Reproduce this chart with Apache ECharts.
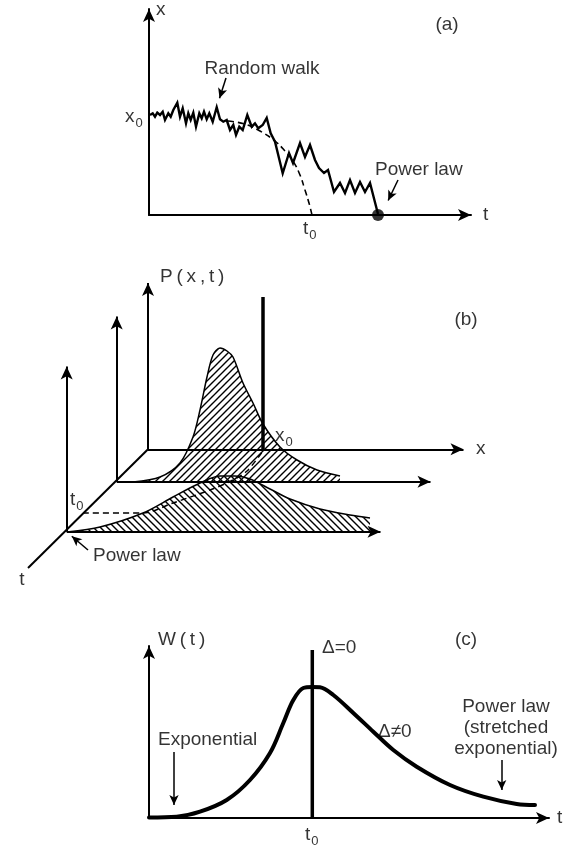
<!DOCTYPE html>
<html><head><meta charset="utf-8">
<script src="https://cdn.jsdelivr.net/npm/echarts@6/dist/echarts.min.js"></script>
<style>html,body{margin:0;padding:0;background:#fff}#c{width:572px;height:846px}</style>
</head><body><div id="c"></div>
<script>
// ---------- Panel (a): random walk (t, x) ----------
const walkA = [[1,100],[3.7,101.7],[6,98.3],[8.3,102.3],[11,100],[13.7,103.3],[16,95],[19.3,101.7],[21.7,98.3],[24.3,105],[28.3,112.3],[31,98.3],[33.7,106.7],[37,91.7],[39.3,101.7],[41.7,95],[44.3,102.3],[47,88.3],[50.3,101.7],[52.7,96.7],[55,103.3],[57.7,95.7],[60.3,101.7],[63.7,93.3],[67.7,107.7],[71,95.7],[74.3,93.3],[77.7,95],[81,85],[84.3,90],[87,80],[90.3,88.3],[93.7,85],[98.3,100],[102.7,88.3],[106,91.7],[109.3,86.7],[113.7,90],[117.7,97],[121.7,81.7],[126,73.3],[133.7,41.7],[140,62],[144,52],[151,72],[156,58],[161,70],[166,55],[170,47],[175,42],[179,45],[185,23],[191,32],[196,22],[201,35],[206,22],[211,33],[216,23],[221,32],[229,1]];
const dashA = [[79,94],[96,91],[111,84],[126,74],[136,64],[144,54],[151,40],[156,25],[160,12],[163,0]];
const dotA = [[229,0]];
const arrowsA = [[[77,137],[69,112]],[[249,35],[237,10]]];
const labelsA = [[7,205,'x','left'],[334,0,'t','left'],[298,190,'(a)','center'],[113,146,'Random walk','center'],[-24,98,'x{s|0}','left'],[154,-14,'t{s|0}','left'],[226,45,'Power law','left']];

// ---------- Panel (b): 3-D sketch ----------
const backCurveB = [[133,118],[160,123],[180,137],[193,163],[200,190],[207,223],[213,245],[220,252],[227,249],[233,243],[243,217],[253,197],[263,176],[280,153],[297,140],[317,130],[340,124]];
const frontCurveB = [[67,68],[100,73],[143,87],[173,103],[200,117],[220,124],[235,124],[250,121],[270,111],[290,101],[320,91],[350,85],[370,82]];
const dashB = [[83,87],[143,87],[173,97],[210,110],[233,120],[247,129],[263,149]];
const deltaB = [[263,151],[263,303]];
const axesB = [[[148,151],[148,323.5]],[[116.7,118.3],[116.7,290]],[[66.7,68.3],[66.7,240]],[[148,150.7],[470,150.7]],[[116.7,118.3],[437,118.3]],[[66.7,68.3],[387,68.3]]];
const diagB = [[148,150.7],[28,32]];
const arrowsB = [[[88,50],[68,67]]];
const backBase = 118.3, frontBase = 68.3;
const labelsB = [[160,323,'P\u2009(\u2009x\u2009,\u2009t\u2009)','left'],[466,280,'(b)','center'],[476,151,'x','left'],[275,164,'x{s|0}','left'],[70,100,'t{s|0}','left'],[93,44,'Power law','left'],[22,20,'t','center']];

// ---------- Panel (c): W(t) ----------
const curveC = [[0,0.5],[27.7,1.3],[51,6.3],[77.7,18],[101,38],[121,65],[134.3,95],[144.3,118],[154.3,130],[163.3,131],[171,130.7],[184.3,123],[204.3,105],[224.3,86.3],[244.3,68],[267.7,51.3],[301,33],[334.3,21.3],[367.7,14],[386,13]];
const deltaC = [[163.3,0],[163.3,168]];
const arrowsC = [[[25,66],[25,8]],[[352.7,58],[352.7,23]]];
const labelsC = [[9,178,'W\u2009(\u2009t\u2009)','left'],[317,178,'(c)','center'],[173,170,'\u0394=0','left'],[229,86,'\u0394\u22600','left'],[9,78,'Exponential','left'],[357,90,'Power law\n(stretched\nexponential)','center'],[408,0,'t','left'],[156,-17,'t{s|0}','left']];

const FONT = '"Liberation Sans", Arial, Helvetica, sans-serif';

function hatch(back) {
  const s = 7, c = document.createElement('canvas');
  c.width = s; c.height = s;
  const g = c.getContext('2d');
  g.strokeStyle = '#000'; g.lineWidth = 1.4; g.beginPath();
  if (back) { g.moveTo(-1,s+1); g.lineTo(s+1,-1); g.moveTo(-1,1); g.lineTo(1,-1); g.moveTo(s-1,s+1); g.lineTo(s+1,s-1); }
  else { g.moveTo(-1,-1); g.lineTo(s+1,s+1); g.moveTo(-1,s-1); g.lineTo(1,s+1); g.moveTo(s-1,-1); g.lineTo(s+1,1); }
  g.stroke();
  return c;
}

function seg(p, q, head) {
  let b = q;
  if (head) {
    const dx = q[0]-p[0], dy = q[1]-p[1], L = Math.hypot(dx, dy);
    b = [q[0]-dx/L*head[1]/2, q[1]-dy/L*head[1]/2];
  }
  return [{coord: p, symbol: 'none'}, {coord: b, symbol: head ? 'arrow' : 'none', symbolSize: head || 1}];
}
function lineGroup(gi, segs, head, width, type) {
  return {type: 'line', xAxisIndex: gi, yAxisIndex: gi, data: [], silent: true,
    markLine: {silent: true, animation: false, symbol: ['none', head ? 'arrow' : 'none'], symbolSize: head || 1,
      label: {show: false}, lineStyle: {color: '#000', width: width, type: type || 'solid'},
      emphasis: {disabled: true},
      data: segs.map(s => seg(s[0], s[1], head))}};
}
function textSeries(gi, items) {
  return {type: 'scatter', xAxisIndex: gi, yAxisIndex: gi, symbolSize: 0, silent: true, clip: false, z: 10,
    label: {show: true, position: 'inside', color: '#000', fontFamily: FONT, fontSize: 19, lineHeight: 21,
      rich: {s: {fontSize: 13, fontFamily: FONT, color: '#000', padding: [12, 0, 0, 1]}}},
    data: items.map(([x, y, t, al]) => ({value: [x, y], label: {formatter: t, align: al, verticalAlign: 'middle'}}))};
}
function curve(gi, data, width, extra) {
  return Object.assign({type: 'line', xAxisIndex: gi, yAxisIndex: gi, data: data, symbol: 'none', silent: true,
    lineStyle: {color: '#000', width: width, join: 'miter'}}, extra || {});
}
const arrowAxis = {show: true, onZero: false, symbol: ['none', 'arrow'], symbolSize: [9, 13], lineStyle: {color: '#000', width: 2}};
const hidden = {axisTick: {show: false}, axisLabel: {show: false}, splitLine: {show: false}};

const chart = echarts.init(document.getElementById('c'), null, {renderer: 'canvas'});
chart.setOption({
  animation: false,
  backgroundColor: '#fff',
  grid: [
    {left: 149, top: 9, width: 322, height: 206},
    {left: 0, top: 250, width: 572, height: 350},
    {left: 149, top: 646, width: 400, height: 172}
  ],
  xAxis: [
    Object.assign({gridIndex: 0, type: 'value', min: 0, max: 322, axisLine: arrowAxis}, hidden),
    Object.assign({gridIndex: 1, type: 'value', min: 0, max: 572, axisLine: {show: false}}, hidden),
    Object.assign({gridIndex: 2, type: 'value', min: 0, max: 400, axisLine: arrowAxis}, hidden)
  ],
  yAxis: [
    Object.assign({gridIndex: 0, type: 'value', min: 0, max: 206, axisLine: arrowAxis}, hidden),
    Object.assign({gridIndex: 1, type: 'value', min: 0, max: 350, axisLine: {show: false}}, hidden),
    Object.assign({gridIndex: 2, type: 'value', min: 0, max: 172, axisLine: arrowAxis}, hidden)
  ],
  series: [
    // (a)
    curve(0, dashA, 1.5, {smooth: 0.4, lineStyle: {color: '#000', width: 1.6, type: [6, 4]}}),
    curve(0, walkA, 2.4),
    {type: 'scatter', xAxisIndex: 0, yAxisIndex: 0, data: dotA, symbolSize: 12, itemStyle: {color: '#000'}, silent: true, z: 5},
    lineGroup(0, arrowsA, [7, 10], 1.5),
    textSeries(0, labelsA),
    // (b)
    curve(1, backCurveB, 1.5, {smooth: 0.3, areaStyle: {color: {image: hatch(true), repeat: 'repeat'}, opacity: 1, origin: backBase}}),
    curve(1, frontCurveB, 1.5, {smooth: 0.3, areaStyle: {color: {image: hatch(false), repeat: 'repeat'}, opacity: 1, origin: frontBase}}),
    curve(1, dashB, 1.5, {smooth: 0.3, lineStyle: {color: '#000', width: 1.5, type: [6, 4]}}),
    lineGroup(1, axesB, [9, 13], 2),
    lineGroup(1, [diagB], null, 2),
    curve(1, deltaB, 3.5),
    lineGroup(1, arrowsB, [7, 10], 1.5),
    textSeries(1, labelsB),
    // (c)
    curve(2, curveC, 4, {smooth: 0.35, lineStyle: {color: '#000', width: 4, cap: 'round'}}),
    curve(2, deltaC, 3.5),
    lineGroup(2, arrowsC, [7, 10], 1.5),
    textSeries(2, labelsC)
  ]
});
</script></body></html>
